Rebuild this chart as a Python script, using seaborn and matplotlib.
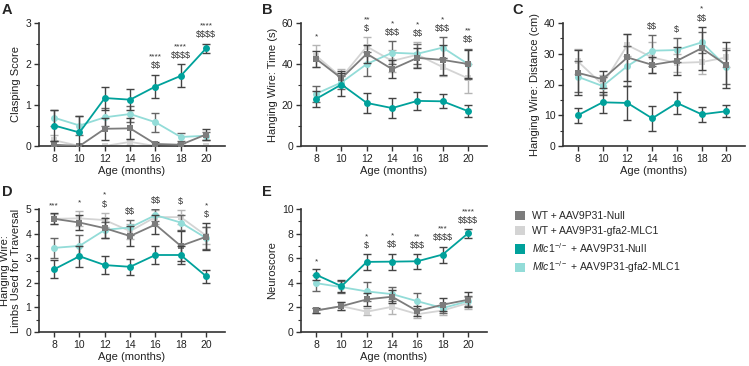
import numpy as np
import pandas as pd
import seaborn as sns
import matplotlib.pyplot as plt
from matplotlib.patches import Patch
from matplotlib.ticker import MultipleLocator

sns.set_theme(style="ticks")
plt.rcParams['font.family'] = ['Liberation Sans', 'DejaVu Sans']
plt.rcParams['mathtext.fontset'] = 'custom'
plt.rcParams['mathtext.it'] = 'Liberation Sans:italic'
plt.rcParams['mathtext.rm'] = 'Liberation Sans'

ages = [8, 10, 12, 14, 16, 18, 20]
groups = ['WT + AAV9P31-Null', 'WT + AAV9P31-gfa2-MLC1',
          r'$\mathit{Mlc1}^{\mathrm{-/-}}$ + AAV9P31-Null',
          r'$\mathit{Mlc1}^{\mathrm{-/-}}$ + AAV9P31-gfa2-MLC1']
colors = ['#7c7c7c', '#d4d4d4', '#00a19b', '#93dcd8']
err_colors = ['#444444', '#b5b5b5', '#444444', '#666666']
markers = ['s', 's', 'o', 'o']

# A - clasping score (mean, sem) per group
a_mean = [[0.03, 0.0, 0.42, 0.43, 0.05, 0.03, 0.28],
          [0.14, 0.0, 0.0, 0.10, 0.0, 0.0, 0.0],
          [0.50, 0.33, 1.17, 1.13, 1.45, 1.71, 2.38],
          [0.69, 0.50, 0.70, 0.78, 0.58, 0.22, 0.25]]
a_sem = [[0.08, 0.0, 0.27, 0.25, 0.04, 0.04, 0.14],
         [0.12, 0.0, 0.0, 0.08, 0.0, 0.0, 0.0],
         [0.38, 0.41, 0.28, 0.26, 0.29, 0.28, 0.12],
         [0.20, 0.22, 0.22, 0.20, 0.23, 0.10, 0.10]]
a_stars = ['', '', '', '', '****', '****', '****']
a_dollars = ['', '', '', '', '$$', '$$$$', '$$$$']

# B - hanging wire time
b_mean = [[42.5, 33.0, 45.0, 37.5, 43.0, 42.0, 40.0],
          [44.0, 33.5, 48.5, 41.5, 44.5, 38.5, 33.0],
          [23.0, 30.0, 21.0, 18.5, 22.0, 21.8, 17.0],
          [25.5, 31.0, 40.0, 45.5, 45.0, 48.0, 40.0]]
b_sem = [[4.0, 3.5, 4.5, 4.5, 5.0, 7.5, 7.0],
         [5.5, 4.0, 4.5, 5.5, 6.0, 4.5, 7.0],
         [4.0, 5.5, 5.0, 5.0, 4.5, 3.5, 3.0],
         [4.0, 3.0, 6.0, 5.5, 5.0, 5.0, 7.5]]
b_stars = ['*', '', '**', '*', '*', '*', '**']
b_dollars = ['', '', '$', '$$$', '$$', '$$$', '$$']

# C - hanging wire distance
c_mean = [[23.8, 21.7, 28.8, 26.4, 27.7, 31.8, 26.3],
          [27.5, 20.0, 32.8, 28.8, 27.0, 27.3, 28.8],
          [10.0, 14.2, 14.0, 9.0, 14.0, 10.3, 11.3],
          [22.5, 19.5, 26.0, 31.0, 31.2, 33.7, 25.8]]
c_sem = [[7.3, 2.8, 7.5, 2.5, 4.5, 7.0, 7.5],
         [4.0, 3.0, 3.5, 5.0, 3.0, 4.0, 3.0],
         [2.5, 3.5, 5.5, 4.0, 3.5, 2.5, 2.0],
         [5.0, 3.0, 6.5, 5.0, 4.0, 3.5, 5.5]]
c_stars = ['', '', '', '', '', '*', '']
c_dollars = ['', '', '', '$$', '$', '$$', '']

# D - limbs used for traversal
d_mean = [[4.60, 4.45, 4.22, 3.90, 4.37, 3.50, 3.87],
          [4.60, 4.62, 4.55, 4.10, 4.67, 4.67, 3.92],
          [2.55, 3.08, 2.72, 2.65, 3.13, 3.13, 2.27],
          [3.42, 3.50, 4.15, 4.25, 4.75, 4.45, 3.82]]
d_sem = [[0.22, 0.30, 0.40, 0.40, 0.40, 0.60, 0.55],
         [0.20, 0.30, 0.30, 0.30, 0.30, 0.30, 0.35],
         [0.37, 0.43, 0.37, 0.33, 0.37, 0.35, 0.27],
         [0.40, 0.45, 0.33, 0.30, 0.25, 0.30, 0.45]]
d_stars = ['***', '*', '*', '', '', '', '*']
d_dollars = ['', '', '$', '$$', '$$', '$', '$']

# E - neuroscore
e_mean = [[1.75, 2.10, 2.65, 2.87, 1.70, 2.22, 2.62],
          [1.75, 2.10, 1.65, 2.05, 1.45, 1.75, 2.35],
          [4.65, 3.72, 5.70, 5.72, 5.75, 6.30, 8.02],
          [3.97, 3.65, 3.30, 3.08, 2.50, 1.95, 2.50]]
e_sem = [[0.20, 0.30, 0.50, 0.55, 0.40, 0.55, 0.60],
         [0.20, 0.30, 0.30, 0.60, 0.35, 0.35, 0.50],
         [0.45, 0.50, 0.65, 0.65, 0.60, 0.65, 0.35],
         [0.65, 0.50, 0.75, 0.60, 0.65, 0.40, 0.40]]
e_stars = ['*', '', '*', '*', '**', '***', '****']
e_dollars = ['', '', '$', '$$', '$$$', '$$$$', '$$$$']

draw_order = [1, 3, 0, 2]

fig = plt.figure(figsize=(7.49, 3.66), dpi=100)
W, H = 749, 366


def add_ax(left_px, top_px, bottom_px, width_px=186):
    return fig.add_axes([left_px / W, 1 - bottom_px / H, width_px / W, (bottom_px - top_px) / H])


def panel(ax, means, sems, stars, dollars, ymax, major, ylabel, letter, lx, ly):
    rows = []
    for g in draw_order:
        for i, a in enumerate(ages):
            rows.append({'age': a, 'value': means[g][i], 'group': groups[g]})
    df = pd.DataFrame(rows)
    for g in draw_order:
        sub = df[df['group'] == groups[g]]
        ax.errorbar(ages, means[g], yerr=sems[g], fmt='none', ecolor=err_colors[g],
                    elinewidth=1.0, capsize=2.8, capthick=1.0, zorder=2 + draw_order.index(g))
        sns.lineplot(data=sub, x='age', y='value', ax=ax, color=colors[g], marker=markers[g],
                     markersize=5, markeredgewidth=0, linewidth=1.3, legend=False,
                     zorder=2.5 + draw_order.index(g))
    ax.set_xlim(6.8, 21.5)
    ax.set_ylim(0, ymax)
    ax.set_xticks(ages)
    ax.yaxis.set_major_locator(MultipleLocator(major))
    ax.yaxis.set_minor_locator(MultipleLocator(major / 2))
    ax.tick_params(axis='both', labelsize=7.5, length=3.5, width=1.0, color='#333333',
                   labelcolor='#222222', pad=2)
    ax.tick_params(axis='y', which='minor', length=2, width=0.8, color='#333333')
    for s in ['left', 'bottom']:
        ax.spines[s].set_linewidth(1.2)
        ax.spines[s].set_color('#333333')
    sns.despine(ax=ax)
    ax.set_xlabel('Age (months)', fontsize=8, labelpad=2, color='#222222')
    ax.set_ylabel(ylabel, fontsize=8, labelpad=3, color='#222222')
    tops = [max(means[g][i] + sems[g][i] for g in range(4)) for i in range(len(ages))]
    for i, a in enumerate(ages):
        off = 3
        if dollars[i]:
            ax.annotate(dollars[i], (a, tops[i]), xytext=(0, off), textcoords='offset points',
                        ha='center', va='bottom', fontsize=6.5, color='#333333',
                        annotation_clip=False, parse_math=False)
            off += 7
        if stars[i]:
            ax.annotate(stars[i], (a, tops[i]), xytext=(0, off), textcoords='offset points',
                        ha='center', va='bottom', fontsize=6, color='#333333',
                        annotation_clip=False, parse_math=False)
    fig.text(lx / W, 1 - ly / H, letter, fontsize=10.5, fontweight='bold', ha='left', va='top')


axA = add_ax(39, 23, 146)
axB = add_ax(301, 23, 146)
axC = add_ax(563, 23, 146, 182)
axD = add_ax(39, 209, 332)
axE = add_ax(301, 209, 332)

panel(axA, a_mean, a_sem, a_stars, a_dollars, 3, 1, 'Clasping Score', 'A', 2, 3)
panel(axB, b_mean, b_sem, b_stars, b_dollars, 60, 20, 'Hanging Wire: Time (s)', 'B', 262, 3)
panel(axC, c_mean, c_sem, c_stars, c_dollars, 40, 10, 'Hanging Wire: Distance (cm)', 'C', 512, 3)
panel(axD, d_mean, d_sem, d_stars, d_dollars, 5, 1, 'Hanging Wire:\nLimbs Used for Traversal', 'D', 2, 185)
panel(axE, e_mean, e_sem, e_stars, e_dollars, 10, 2, 'Neuroscore', 'E', 262, 185)

handles = [Patch(facecolor=colors[g], edgecolor='none') for g in range(4)]
fig.legend(handles, groups, loc='upper left', bbox_to_anchor=(515 / W, 1 - 211 / H),
           frameon=False, fontsize=7.5, handlelength=1.0, handleheight=1.0,
           handletextpad=0.6, labelspacing=0.45, borderaxespad=0, borderpad=0)

fig.savefig('out.png', dpi=100)
